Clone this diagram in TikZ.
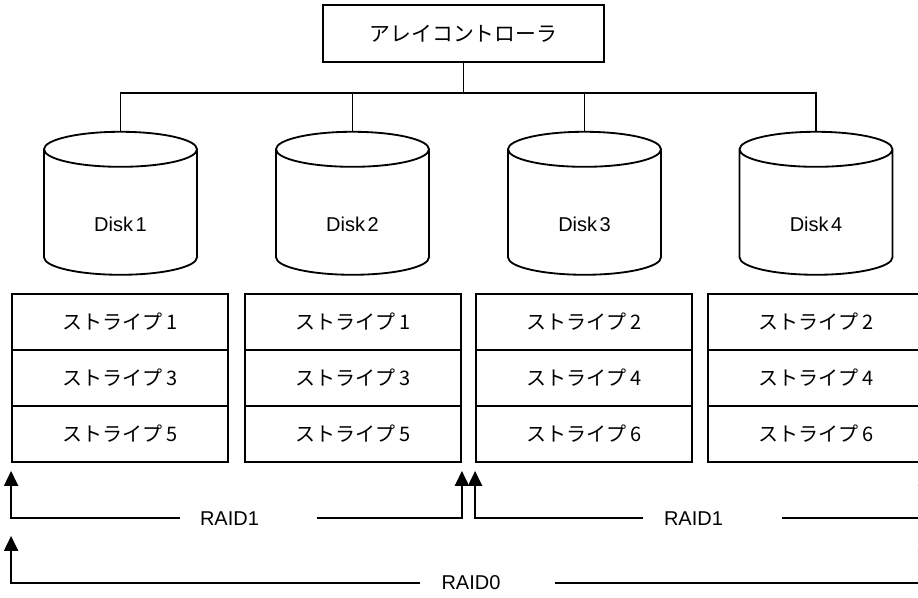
\documentclass[tikz,border=0pt]{standalone}
\usepackage{fontspec}
\setmainfont{Liberation Sans}
\newfontfamily\jp{Noto Sans CJK JP}
\usetikzlibrary{shapes.geometric,arrows.meta}
\begin{document}
\begin{tikzpicture}[x=0.6pt,y=-0.6pt,line width=1.1pt,
		font=\fontsize{12}{14}\selectfont,
		cell/.style={draw,minimum width=129.6pt,minimum height=33.6pt,inner sep=0pt,font=\fontsize{12}{14}\selectfont\jp},
		disk/.style={draw,cylinder,shape border rotate=90,aspect=0.229,minimum width=91.8pt,minimum height=85.8pt,inner sep=0pt},
		disklabel/.style={label={[yshift=-6.9pt]center:#1}},
		raid/.style={-{Triangle[length=9pt,width=8.4pt]}}]
			\useasboundingbox (0,0) rectangle (918,598);
			\node[draw,minimum width=168.6pt,minimum height=34.2pt,font=\fontsize{12.5}{14}\selectfont\jp] (ctrl) at (463.5,33.5) {アレイコントローラ};
			\node[disk,disklabel=Disk\kern1.5pt 1] (d1) at (120.5,212.5) {\makebox[91.8pt]{}};
			\node[disk,disklabel=Disk\kern1.5pt 2] (d2) at (352.5,212.5) {\makebox[91.8pt]{}};
			\node[disk,disklabel=Disk\kern1.5pt 3] (d3) at (584.5,212.5) {\makebox[91.8pt]{}};
			\node[disk,disklabel=Disk\kern1.5pt 4] (d4) at (816,212.5) {\makebox[91.8pt]{}};
			\coordinate (bus) at (463.5,93);
			\draw (ctrl.south) -- (bus);
			\draw (d1.north) |- (bus) -| (d4.north);
			\draw (d2.north) -- (d2.north |- bus);
			\draw (d3.north) -- (d3.north |- bus);
			\node[cell] (a1) at (120,322) {ストライプ\kern2pt 1};
			\node[cell] (a2) at (120,378) {ストライプ\kern2pt 3};
			\node[cell] (a3) at (120,434) {ストライプ\kern2pt 5};
			\node[cell] (b1) at (353,322) {ストライプ\kern2pt 1};
			\node[cell] (b2) at (353,378) {ストライプ\kern2pt 3};
			\node[cell] (b3) at (353,434) {ストライプ\kern2pt 5};
			\node[cell] (c1) at (584,322) {ストライプ\kern2pt 2};
			\node[cell] (c2) at (584,378) {ストライプ\kern2pt 4};
			\node[cell] (c3) at (584,434) {ストライプ\kern2pt 6};
			\node[cell] (e1) at (816,322) {ストライプ\kern2pt 2};
			\node[cell] (e2) at (816,378) {ストライプ\kern2pt 4};
			\node[cell] (e3) at (816,434) {ストライプ\kern2pt 6};
			\node (r1) at (229.5,519) {RAID1};
			\coordinate (r1l) at (180,518);
			\coordinate (r1r) at (317,518);
			\draw[raid] (r1l) -| ([yshift=-4.8pt]a3.south west);
			\draw[raid] (r1r) -| ([yshift=-4.8pt]b3.south east);
			\node (r2) at (693.5,519) {RAID1};
			\coordinate (r2l) at (643,518);
			\coordinate (r2r) at (782,518);
			\draw[raid] (r2l) -| ([yshift=-4.8pt]c3.south west);
			\draw[raid] (r2r) -| ([yshift=-4.8pt]e3.south east);
			\node (r0) at (471,583) {RAID0};
			\coordinate (r0l) at (420,583);
			\coordinate (r0r) at (555,583);
			\draw[raid] (r0l) -| ([yshift=-43.8pt]a3.south west);
			\draw[raid] (r0r) -| ([yshift=-43.8pt]e3.south east);
		\end{tikzpicture}
\end{document}
